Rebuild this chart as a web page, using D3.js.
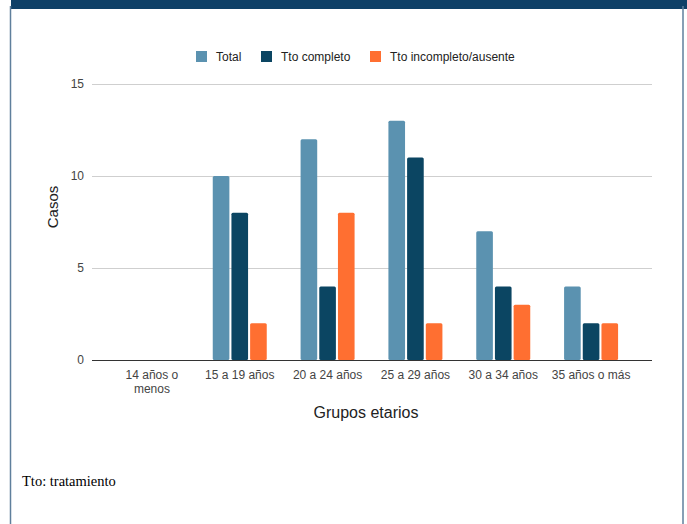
<!DOCTYPE html>
<html>
<head>
<meta charset="utf-8">
<script src="https://cdn.jsdelivr.net/npm/d3@7"></script>
<style>
  body { margin: 0; background: #fff; }
</style>
</head>
<body>
<div class="container"></div>
<script>
const wd = 687
const ht = 524

// data
const grupos = ["14 años o menos", "15 a 19 años", "20 a 24 años", "25 a 29 años", "30 a 34 años", "35 años o más"]
const total = [0, 10, 12, 13, 7, 4]
const ttoCompleto = [0, 8, 4, 11, 4, 2]
const ttoIncompleto = [0, 2, 8, 2, 3, 2]
const seriesNames = ["Total", "Tto completo", "Tto incompleto/ausente"]
const colores = ["#5b92b0", "#0b4562", "#ff6f31"]
const yTicks = [0, 5, 10, 15]

const series = [total, ttoCompleto, ttoIncompleto]

const svg = d3.select(".container")
  .append("svg")
  .attr("width", wd)
  .attr("height", ht)
  .style("display", "block")

// frame
svg.append("rect").attr("x", 11).attr("y", 0).attr("width", wd - 11).attr("height", 9).attr("fill", "#0f4067")
svg.append("line").attr("x1", 10.5).attr("x2", 10.5).attr("y1", 6).attr("y2", ht)
  .style("stroke", "#5f7f9c").style("stroke-width", "1.5px")
svg.append("line").attr("x1", 683).attr("x2", 683).attr("y1", 6).attr("y2", ht)
  .style("stroke", "#5f7f9c").style("stroke-width", "1.5px")

const x0 = d3.scaleBand()
  .domain(grupos)
  .range([108, 635])

const grpW = 54
const x1 = d3.scaleBand()
  .domain(seriesNames)
  .range([0, grpW])
  .paddingInner(0.11)

const y = d3.scaleLinear()
  .domain([0, 15])
  .range([360, 84])

// grid
const grid = svg.append("g").attr("transform", "translate(92,0)")
  .call(d3.axisLeft(y).tickValues(yTicks).tickSize(-560).tickFormat(d3.format("d")).tickPadding(8))
grid.select(".domain").remove()
grid.selectAll(".tick line").style("stroke", "#cfcfcf")
grid.selectAll(".tick text")
  .style("font-family", "Arial, 'Liberation Sans', sans-serif")
  .style("font-size", "12px")
  .style("fill", "#444")

// bars
grupos.forEach((g, i) => {
  const gx = x0(g) + (x0.bandwidth() - grpW) / 2
  series.forEach((s, k) => {
    if (s[i] <= 0) return
    svg.append("rect")
      .attr("x", gx + x1(seriesNames[k]))
      .attr("y", y(s[i]))
      .attr("width", x1.bandwidth())
      .attr("height", y(0) - y(s[i]))
      .attr("rx", 1.5)
      .attr("fill", colores[k])
  })
})

// baseline
svg.append("line").attr("x1", 92).attr("x2", 652).attr("y1", y(0) + 0.5).attr("y2", y(0) + 0.5)
  .style("stroke", "#333").style("stroke-width", "1px")

// x tick labels
const xAxis = svg.append("g")
grupos.forEach((g) => {
  const cx = x0(g) + x0.bandwidth() / 2
  const t = xAxis.append("text")
    .attr("x", cx)
    .attr("y", 379)
    .attr("text-anchor", "middle")
    .style("font-family", "Arial, 'Liberation Sans', sans-serif")
    .style("font-size", "12px")
    .style("fill", "#444")
  if (g == "14 años o menos") {
    t.append("tspan").attr("x", cx).text("14 años o")
    t.append("tspan").attr("x", cx).attr("dy", 14).text("menos")
  } else {
    t.text(g)
  }
})

// axis titles
svg.append("text")
  .attr("x", 366).attr("y", 418)
  .attr("text-anchor", "middle")
  .style("font-family", "Arial, 'Liberation Sans', sans-serif")
  .style("font-size", "16px")
  .style("fill", "#222")
  .text("Grupos etarios")

svg.append("text")
  .attr("transform", "translate(58,207) rotate(-90)")
  .attr("text-anchor", "middle")
  .style("font-family", "Arial, 'Liberation Sans', sans-serif")
  .style("font-size", "15px")
  .style("fill", "#222")
  .text("Casos")

// legend
const legX = [196, 261, 370]
seriesNames.forEach((n, k) => {
  svg.append("rect").attr("x", legX[k]).attr("y", 51).attr("width", 11).attr("height", 11).attr("fill", colores[k])
  svg.append("text")
    .attr("x", legX[k] + 20).attr("y", 61)
    .style("font-family", "Arial, 'Liberation Sans', sans-serif")
    .style("font-size", "12px")
    .style("fill", "#222")
    .text(n)
})

// note
svg.append("text")
  .attr("x", 22).attr("y", 486)
  .style("font-family", "'Times New Roman', 'Liberation Serif', serif")
  .style("font-size", "14.5px")
  .style("fill", "#000")
  .text("Tto: tratamiento")
</script>
</body>
</html>
